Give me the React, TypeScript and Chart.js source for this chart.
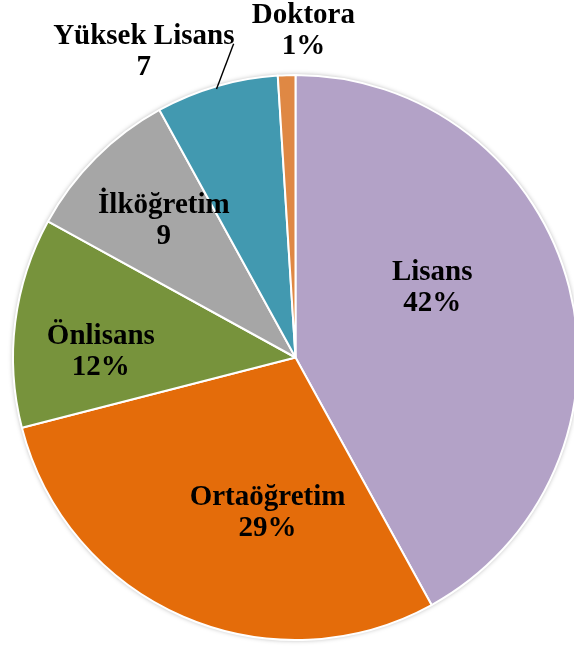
import React, { useEffect, useRef } from "react";
import { Chart, registerables } from "chart.js";

Chart.register(...registerables);

const categories = ["Lisans", "Ortaöğretim", "Önlisans", "İlköğretim", "Yüksek Lisans", "Doktora"];
const values = [42, 29, 12, 9, 7, 1];
const valueLabels = ["42%", "29%", "12%", "9", "7", "1%"];
const colors = ["#B3A2C7", "#E46C0A", "#77933C", "#A6A6A6", "#4299B0", "#DF8844"];
// label anchor offsets, as a fraction of the radius, from the pie centre
const labelOffsets: [number, number][] = [
  [0.484, -0.247],
  [-0.099, 0.551],
  [-0.689, -0.021],
  [-0.466, -0.484],
  [-0.537, -1.081],
  [0.028, -1.155],
];

const labelPlugin = {
  id: "sliceLabels",
  beforeDatasetsDraw(chart: any) {
    const meta = chart.getDatasetMeta(0);
    const arc = meta.data[0];
    if (!arc) return;
    const { x, y, outerRadius } = arc.getProps(["x", "y", "outerRadius"], true);
    const ctx = chart.ctx;
    ctx.save();
    ctx.shadowColor = "rgba(0,0,0,0.35)";
    ctx.shadowBlur = 5;
    ctx.fillStyle = "#ffffff";
    ctx.beginPath();
    ctx.arc(x, y, outerRadius, 0, Math.PI * 2);
    ctx.fill();
    ctx.restore();
  },
  afterDatasetsDraw(chart: any) {
    const meta = chart.getDatasetMeta(0);
    const ctx = chart.ctx;
    ctx.save();
    ctx.font = "bold 29px 'Liberation Serif', 'Times New Roman', serif";
    ctx.fillStyle = "#000000";
    ctx.textAlign = "center";
    ctx.textBaseline = "middle";
    meta.data.forEach((el: any, i: number) => {
      const { x, y, outerRadius } = el.getProps(["x", "y", "outerRadius"], true);
      const [ox, oy] = labelOffsets[i];
      const lx = x + ox * outerRadius;
      const ly = y + oy * outerRadius;
      const lh = 31;
      ctx.fillText(categories[i], lx, ly - lh / 2);
      ctx.fillText(valueLabels[i], lx, ly + lh / 2);
      if (i === 4) {
        // leader line from label to slice
        const mid = (el.startAngle + el.endAngle) / 2;
        const ex = x + Math.cos(mid) * (outerRadius - 3);
        const ey = y + Math.sin(mid) * (outerRadius - 3);
        ctx.strokeStyle = "#000000";
        ctx.lineWidth = 1.4;
        ctx.beginPath();
        ctx.moveTo(lx + 0.318 * outerRadius, ly - 0.03 * outerRadius);
        ctx.lineTo(ex - 1, ey);
        ctx.stroke();
      }
    });
    ctx.restore();
  },
};

export default function App() {
  const ref = useRef<HTMLCanvasElement | null>(null);
  useEffect(() => {
    if (!ref.current) return;
    const chart = new Chart(ref.current, {
      type: "pie",
      data: {
        labels: categories,
        datasets: [
          {
            data: values,
            backgroundColor: colors,
            borderColor: "#ffffff",
            borderWidth: 2,
          },
        ],
      },
      options: {
        responsive: false,
        maintainAspectRatio: false,
        animation: false,
        layout: { padding: { left: 12, right: 21, top: 74, bottom: 11 } },
        plugins: {
          legend: { display: false },
          tooltip: { enabled: false },
        },
      },
      plugins: [labelPlugin],
    });
    return () => chart.destroy();
  }, []);
  return (
    <div
      style={{
        position: "absolute",
        left: 0,
        top: 0,
        width: 574,
        height: 652,
        overflow: "hidden",
        background: "#ffffff",
      }}
    >
      <canvas ref={ref} width={600} height={652} style={{ width: 600, height: 652, display: "block" }} />
    </div>
  );
}
